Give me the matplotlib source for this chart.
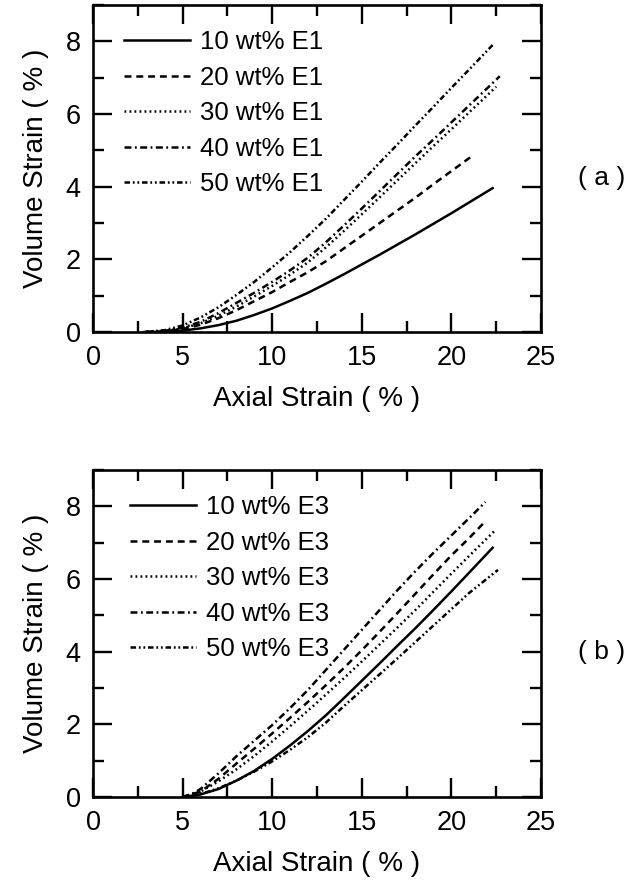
import numpy as np
import matplotlib
matplotlib.use('Agg')
import matplotlib.pyplot as plt
from matplotlib.ticker import MultipleLocator

plt.rcParams['font.family'] = ['Liberation Sans', 'DejaVu Sans']
plt.rcParams['lines.scale_dashes'] = False

# ---- data ----
labels_a = ['10 wt% E1', '20 wt% E1', '30 wt% E1', '40 wt% E1', '50 wt% E1']
labels_b = ['10 wt% E3', '20 wt% E3', '30 wt% E3', '40 wt% E3', '50 wt% E3']

# panel (a)
x_a10 = [3, 4, 5, 6, 7, 8, 9, 10, 11, 12, 13, 14, 15, 16, 17, 18, 19, 20, 21, 22.3]
y_a10 = [0, 0.01, 0.04, 0.1, 0.19, 0.31, 0.47, 0.65, 0.86, 1.08, 1.33, 1.59, 1.86, 2.13, 2.41, 2.69, 2.98, 3.27, 3.57, 3.96]
x_a20 = [3, 4, 5, 6, 7, 8, 9, 10, 11, 12, 13, 14, 15, 16, 17, 18, 19, 20, 21.2]
y_a20 = [0, 0.02, 0.08, 0.2, 0.38, 0.6, 0.85, 1.1, 1.38, 1.65, 1.95, 2.3, 2.65, 3.0, 3.35, 3.7, 4.07, 4.43, 4.86]
x_a30 = [3, 4, 5, 6, 7, 8, 9, 10, 11, 12, 13, 14, 15, 16, 17, 18, 19, 20, 21, 22.5]
y_a30 = [0, 0.02, 0.1, 0.24, 0.45, 0.7, 0.98, 1.27, 1.58, 1.92, 2.33, 2.78, 3.24, 3.71, 4.18, 4.65, 5.12, 5.58, 6.05, 6.75]
x_a40 = [3, 4, 5, 6, 7, 8, 9, 10, 11, 12, 13, 14, 15, 16, 17, 18, 19, 20, 21, 22.7]
y_a40 = [0, 0.03, 0.12, 0.28, 0.52, 0.8, 1.08, 1.38, 1.7, 2.05, 2.47, 2.93, 3.4, 3.88, 4.36, 4.84, 5.3, 5.77, 6.24, 7.04]
x_a50 = [2.8, 4, 5, 6, 7, 8, 9, 10, 11, 12, 13, 14, 15, 16, 17, 18, 19, 20, 21, 22.3]
y_a50 = [0, 0.05, 0.18, 0.4, 0.68, 1.02, 1.38, 1.78, 2.2, 2.65, 3.12, 3.63, 4.14, 4.66, 5.17, 5.69, 6.2, 6.72, 7.23, 7.9]

# panel (b)
x_b10 = [5, 6, 7, 8, 9, 10, 11, 12, 13, 14, 15, 16, 17, 18, 19, 20, 21, 22.3]
y_b10 = [0, 0.07, 0.22, 0.45, 0.72, 1.05, 1.42, 1.82, 2.25, 2.72, 3.2, 3.68, 4.17, 4.65, 5.15, 5.66, 6.18, 6.86]
x_b20 = [5, 6, 7, 8, 9, 10, 11, 12, 13, 14, 15, 16, 17, 18, 19, 20, 21, 21.8]
y_b20 = [0, 0.15, 0.5, 0.92, 1.33, 1.75, 2.18, 2.62, 3.08, 3.55, 4.04, 4.55, 5.07, 5.6, 6.13, 6.65, 7.13, 7.54]
x_b30 = [5, 6, 7, 8, 9, 10, 11, 12, 13, 14, 15, 16, 17, 18, 19, 20, 21, 22.4]
y_b30 = [0, 0.15, 0.43, 0.76, 1.13, 1.53, 1.95, 2.38, 2.82, 3.27, 3.73, 4.2, 4.67, 5.15, 5.65, 6.15, 6.64, 7.32]
x_b40 = [5, 5.5, 6, 7, 8, 9, 10, 11, 12, 13, 14, 15, 16, 17, 18, 19, 20, 21, 21.9]
y_b40 = [0, 0.08, 0.22, 0.65, 1.12, 1.55, 1.98, 2.45, 2.95, 3.5, 4.05, 4.6, 5.15, 5.7, 6.22, 6.72, 7.2, 7.68, 8.12]
x_b50 = [5.3, 6, 7, 8, 9, 10, 11, 12, 13, 14, 15, 16, 17, 18, 19, 20, 21, 22.6]
y_b50 = [0, 0.08, 0.24, 0.45, 0.7, 0.98, 1.3, 1.65, 2.05, 2.5, 2.94, 3.38, 3.82, 4.27, 4.72, 5.17, 5.62, 6.25]

styles = ['-', (0, (5, 3.5)), (0, (1.3, 2.3)), (0, (5, 2.5, 1.3, 2.5)), (0, (4, 2, 1.3, 2, 1.3, 2))]

fig = plt.figure(figsize=(6.31, 8.93), dpi=100)


def setup(ax):
    ax.set_xlim(0, 25)
    ax.set_ylim(0, 9)
    ax.xaxis.set_major_locator(MultipleLocator(5))
    ax.xaxis.set_minor_locator(MultipleLocator(2.5))
    ax.yaxis.set_major_locator(MultipleLocator(2))
    ax.yaxis.set_minor_locator(MultipleLocator(1))
    ax.tick_params(which='both', direction='in', top=True, right=True, width=1.7, labelsize=19.5)
    ax.tick_params(which='major', length=14, pad=9)
    ax.tick_params(which='minor', length=8)
    for s in ax.spines.values():
        s.set_linewidth(1.9)
    ax.set_xlabel('Axial Strain ( % )', fontsize=20, labelpad=11)
    ax.set_ylabel('Volume Strain ( % )', fontsize=20, labelpad=12)


ax1 = fig.add_axes([0.1474, 0.6282, 0.710, 0.3662])
xs = [x_a10, x_a20, x_a30, x_a40, x_a50]
ys = [y_a10, y_a20, y_a30, y_a40, y_a50]
for x, y, ls, lab in zip(xs, ys, styles, labels_a):
    ax1.plot(x, y, color='black', lw=1.8, linestyle=ls, label=lab)
setup(ax1)
ax1.legend(loc='upper left', bbox_to_anchor=(0.047, 0.955), frameon=False, fontsize=18.5,
           handlelength=2.55, handletextpad=0.4, labelspacing=0.45, borderaxespad=0)

ax2 = fig.add_axes([0.1474, 0.1075, 0.710, 0.3662])
xs = [x_b10, x_b20, x_b30, x_b40, x_b50]
ys = [y_b10, y_b20, y_b30, y_b40, y_b50]
for x, y, ls, lab in zip(xs, ys, styles, labels_b):
    ax2.plot(x, y, color='black', lw=1.8, linestyle=ls, label=lab)
setup(ax2)
ax2.legend(loc='upper left', bbox_to_anchor=(0.06, 0.955), frameon=False, fontsize=18.5,
           handlelength=2.55, handletextpad=0.4, labelspacing=0.45, borderaxespad=0)

fig.text(602 / 631, 1 - 178 / 893, '( a )', fontsize=19, ha='center', va='center')
fig.text(602 / 631, 1 - 652 / 893, '( b )', fontsize=19, ha='center', va='center')

fig.savefig('out.png', dpi=100)
